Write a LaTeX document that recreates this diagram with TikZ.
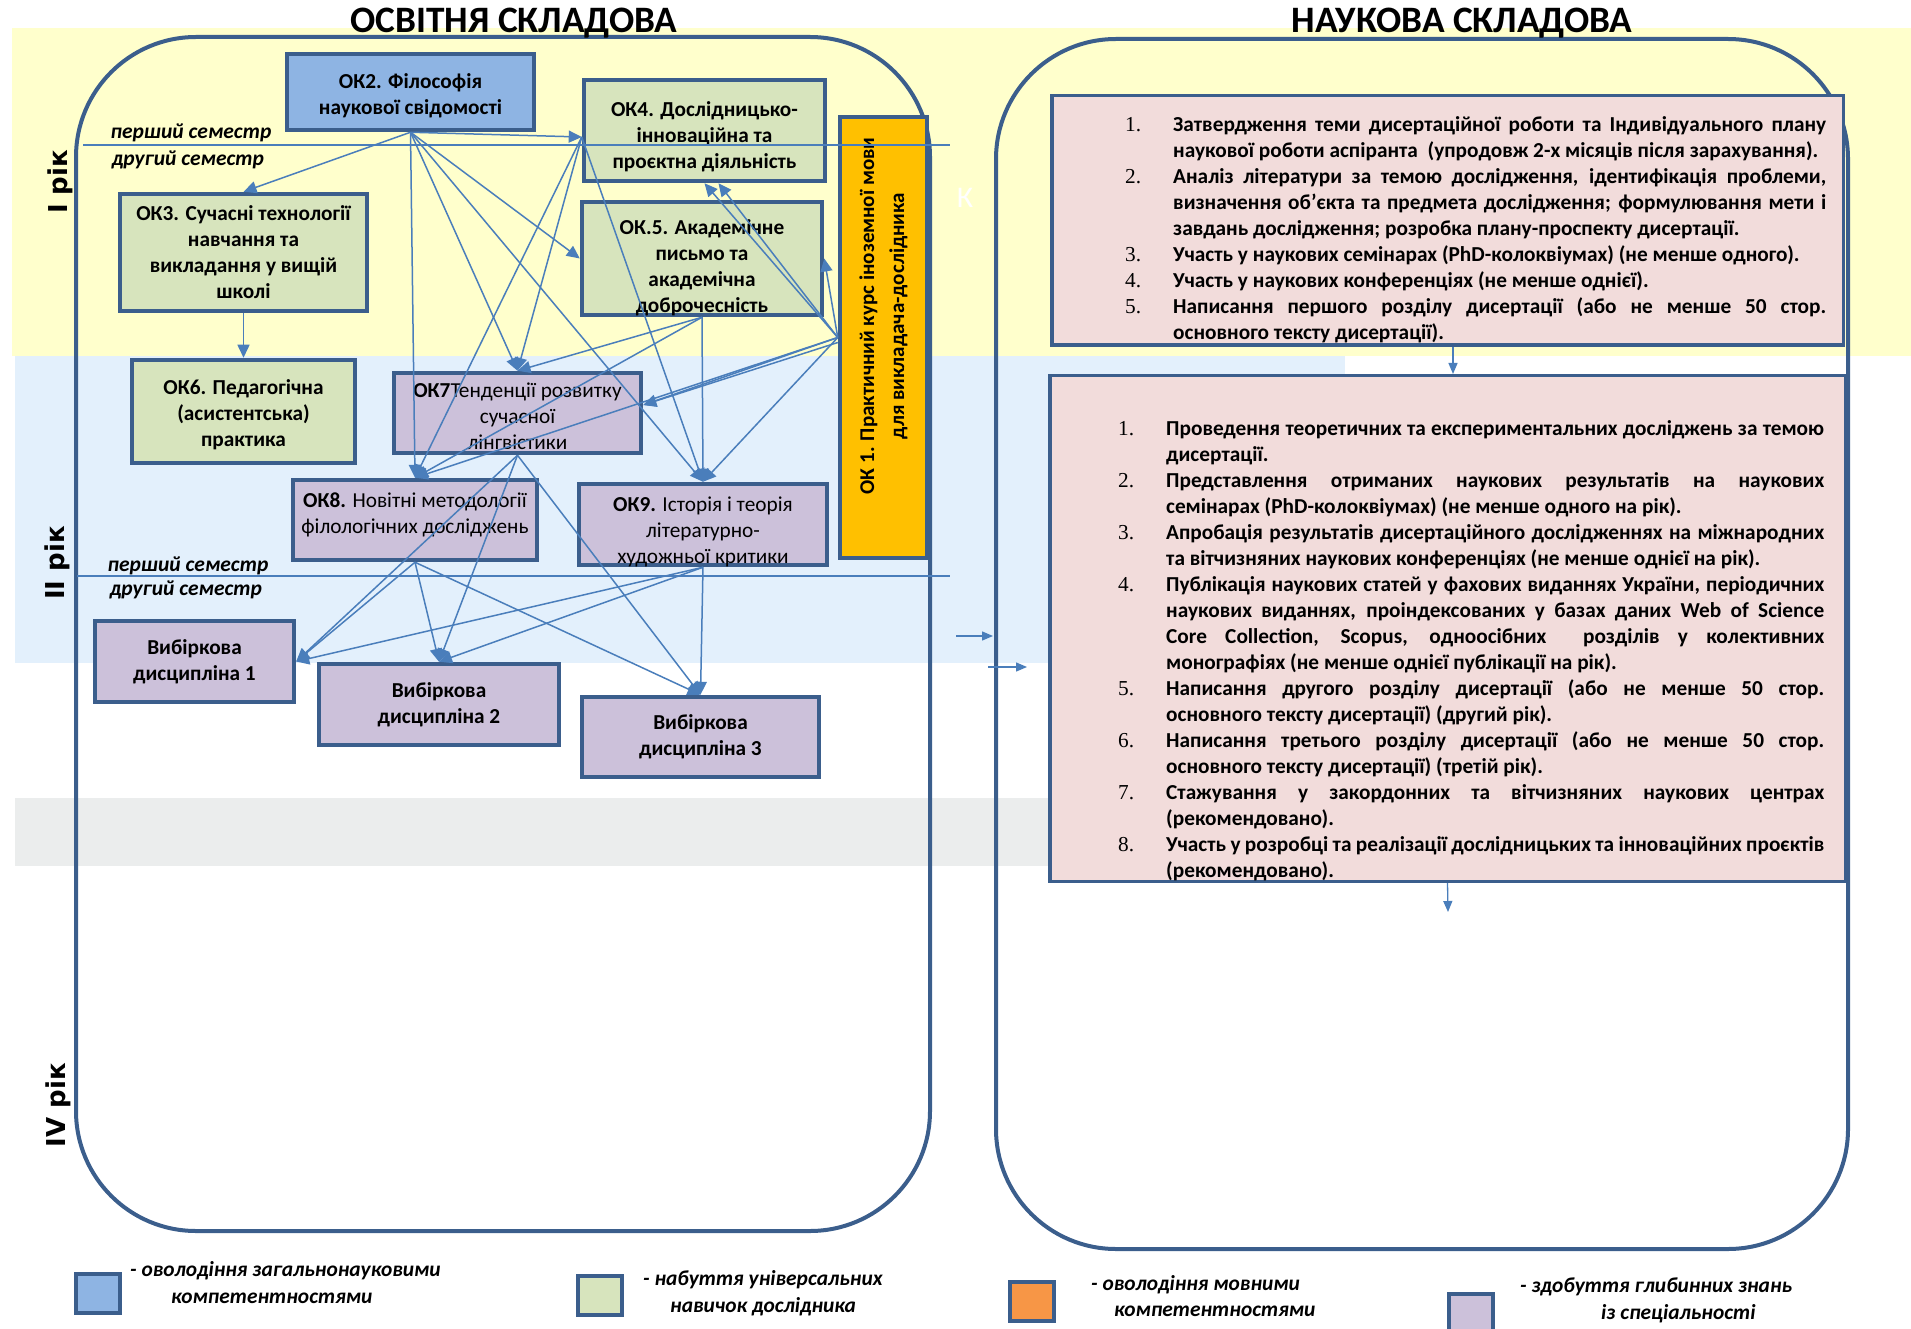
\documentclass[tikz,border=0pt]{standalone}
\usepackage{fontspec}
\setmainfont{Carlito}
\newfontfamily\yearfont{DejaVu Sans}
\newfontfamily\numfont{Liberation Serif}
\usepackage{xcolor}
\usetikzlibrary{arrows.meta}

\definecolor{boxline}{RGB}{59,94,140}
\definecolor{arrowblue}{RGB}{74,126,187}
\definecolor{okblue}{RGB}{142,180,227}
\definecolor{okgreen}{RGB}{215,228,189}
\definecolor{okpurple}{RGB}{204,193,218}
\definecolor{okorange}{RGB}{255,192,0}
\definecolor{legorange}{RGB}{247,150,70}
\definecolor{planpink}{RGB}{242,220,219}
\definecolor{bandyellow}{RGB}{255,255,204}
\definecolor{bandblue}{RGB}{227,240,252}
\definecolor{bandgray}{RGB}{235,237,237}

\tikzset{
  okfont/.style={font=\fontsize{21.3}{26}\selectfont},
  okboldfont/.style={font=\fontsize{21.3}{26}\selectfont\bfseries},
  okbox/.style={draw=boxline, line width=4.5pt, align=center, inner sep=1pt, okboldfont},
  okboxblue/.style={okbox, fill=okblue},
  okboxgreen/.style={okbox, fill=okgreen},
  okboxpurple/.style={okbox, fill=okpurple},
  okboxorange/.style={okbox, fill=okorange, font=\fontsize{21}{30}\selectfont\bfseries},
  planbox/.style={draw=boxline, line width=3.5pt, fill=planpink, inner sep=0pt},
  plantext/.style={font=\fontsize{21.3}{26}\selectfont\bfseries, align=justify, inner sep=0pt, anchor=north west},
  bigframe/.style={draw=boxline, line width=4pt, rounded corners=120pt},
  titlefont/.style={font=\fontsize{37.3}{42}\selectfont\bfseries, inner sep=0pt},
  yearlabel/.style={font=\yearfont\fontsize{26}{30}\selectfont\bfseries, rotate=90, inner sep=0pt},
  semtext/.style={font=\fontsize{21.5}{25}\selectfont\bfseries\itshape, inner sep=0pt},
  semline/.style={draw=arrowblue, line width=1.3pt},
  okarrow/.style={-{Triangle[length=13pt,width=12pt]}, draw=arrowblue, line width=1.5pt},
  planarrow/.style={-{Triangle[length=11pt,width=9pt]}, draw=arrowblue, line width=1.3pt},
  legsq/.style={draw=boxline, line width=4pt, minimum width=44pt, minimum height=39pt, inner sep=0pt},
  legtext/.style={font=\fontsize{21.4}{25}\selectfont\bfseries\itshape, inner sep=0pt, anchor=west},
}

% text block moved up or down inside its box
\newcommand{\droptext}[2]{\raisebox{#1}[\height][\depth]{\begin{tabular}{@{}c@{}}#2\end{tabular}}}
% numbered item with hanging indent
\newcommand{\planitem}[2]{\par\hangindent=48pt\hangafter=1\noindent\makebox[48pt][l]{\numfont\mdseries #1}#2\par}

\begin{document}
\begin{tikzpicture}[x=1pt, y=-1pt]
  \useasboundingbox (0,0) rectangle (1911,1329);

  % Year bands
  \fill[bandyellow] (12,28) rectangle (1911,356);
  \fill[bandblue] (15,356) rectangle (1345,663);
  \fill[bandgray] (15,798) rectangle (1050,866);

  % Frames and titles
  \draw[bigframe] (76,37) rectangle (930,1231);
  \draw[bigframe] (996,39) rectangle (1848,1249);
  \node[titlefont] (eduttl) at (514,23) {ОСВІТНЯ СКЛАДОВА};
  \node[titlefont] (scittl) at (1462,23) {НАУКОВА СКЛАДОВА};

  % Years
  \node[yearlabel] (year1) at (60,182) {I рік};
  \node[yearlabel] (year2) at (57,563) {II рік};
  \node[yearlabel] (year4) at (58,1105) {IV рік};

  % Educational components
  \node[okboxblue, minimum width=247pt, minimum height=76pt] (ok2) at (410.5,92) {\droptext{-4pt}{ОК2. Філософія\\наукової свідомості}};
  \node[okboxgreen, minimum width=241pt, minimum height=101pt] (ok4) at (704.5,130.5) {\droptext{-7pt}{ОК4. Дослідницько-\\інноваційна та\\проєктна діяльність}};
  \node[okboxgreen, minimum width=247pt, minimum height=117pt] (ok3) at (243.5,252.5) {ОК3. Сучасні технології\\навчання та\\викладання у вищій\\школі};
  \node[okboxgreen, minimum width=240pt, minimum height=113pt] (ok5) at (702,258.5) {\droptext{-10pt}{ОК.5. Академічне\\письмо та\\академічна\\доброчесність}};
  \node[okboxgreen, minimum width=223pt, minimum height=103pt] (ok6) at (243.5,411.5) {\droptext{-4pt}{ОК6. Педагогічна\\(асистентська)\\практика}};
  \node[okboxpurple, okfont, minimum width=247pt, minimum height=80pt] (ok7) at (517.5,413) {\droptext{-5pt}{\textbf{ОК7}Тенденції розвитку\\сучасної\\лінгвістики}};
  \node[okboxpurple, okfont, minimum width=244pt, minimum height=80pt] (ok8) at (415,520) {\droptext{5pt}{\textbf{ОК8.} Новітні методології\\філологічних досліджень}};
  \node[okboxpurple, okfont, minimum width=248pt, minimum height=81pt] (ok9) at (703,524.5) {\droptext{-8pt}{\textbf{ОК9.} Історія і теорія\\літературно-\\художньої критики}};
  \node[okboxorange, rotate=90, minimum width=441pt, minimum height=87pt] (ok1) at (883.5,337.5) {\hspace*{43pt}ОК 1. Практичний курс іноземної мови\\\hspace*{43pt}для викладача-дослідника};
  \node[okboxpurple, minimum width=199pt, minimum height=81pt] (vd1) at (194.5,661.5) {Вибіркова\\дисципліна 1};
  \node[okboxpurple, minimum width=240pt, minimum height=81pt] (vd2) at (439,704.5) {Вибіркова\\дисципліна 2};
  \node[okboxpurple, minimum width=237pt, minimum height=80pt] (vd3) at (700.5,737) {Вибіркова\\дисципліна 3};
  \node[font=\fontsize{30}{36}\selectfont, text=white, inner sep=0pt] (ghostk) at (965,198) {К};

  % Semesters
  \coordinate (sem1l) at (83,145);
  \coordinate (sem1r) at (950,145);
  \coordinate (sem2l) at (77,576);
  \coordinate (sem2r) at (950,576);
  \draw[semline] (sem1l) -- (sem1r);
  \draw[semline] (sem2l) -- (sem2r);
  \node[semtext] (sem1a) at (191,133) {перший семестр};
  \node[semtext] (sem1b) at (188,160) {другий семестр};
  \node[semtext] (sem2a) at (188,566) {перший семестр};
  \node[semtext] (sem2b) at (186,590) {другий семестр};

  % Arrows from OK2
  \coordinate (ok4in) at ([yshift=-6.5pt]ok4.west);
  \draw[okarrow] (ok2.south) -- (ok3.north);
  \draw[okarrow] (ok2.south) -- (ok4in);
  \draw[okarrow] (ok2.south) -- (ok5.west);
  \draw[okarrow] (ok2.south) -- (ok7.north);
  \draw[okarrow] (ok2.south) -- (ok8.north);
  \draw[okarrow] (ok2.south) -- (ok9.north);

  % Arrows from OK4, OK3, OK5
  \draw[okarrow] (ok4in) -- (ok7.north);
  \draw[okarrow] (ok4in) -- (ok8.north);
  \draw[okarrow] (ok4in) -- (ok9.north);
  \draw[okarrow] (ok3.south) -- (ok6.north);
  \draw[okarrow] (ok5.south) -- (ok7.north);
  \draw[okarrow] (ok5.south) -- (ok8.north);
  \draw[okarrow] (ok5.south) -- (ok9.north);

  % Arrows from OK1
  \draw[okarrow] (ok1.north) -- (ok4.south);
  \draw[okarrow] (ok1.north) -- ([xshift=14pt]ok4.south);
  \draw[okarrow] (ok1.north) -- (ok5.east);
  \draw[okarrow] (ok1.north) -- ([yshift=8pt]ok7.east);
  \draw[okarrow] ([yshift=-5pt]ok1.north) -- ([yshift=8pt]ok7.east);
  \draw[okarrow] (ok1.north) -- (ok8.north);
  \draw[okarrow] (ok1.north) -- (ok9.north);

  % Arrows to electives
  \draw[okarrow] (ok7.south) -- (vd1.east);
  \draw[okarrow] (ok7.south) -- (vd2.north);
  \draw[okarrow] (ok7.south) -- (vd3.north);
  \draw[okarrow] (ok8.south) -- (vd1.east);
  \draw[okarrow] (ok8.south) -- (vd2.north);
  \draw[okarrow] (ok8.south) -- (vd3.north);
  \draw[okarrow] (ok9.south) -- (vd1.east);
  \draw[okarrow] (ok9.south) -- (vd2.north);
  \draw[okarrow] (ok9.south) -- (vd3.north);

  % Scientific component
  \node[planbox, minimum width=791.5pt, minimum height=249.5pt] (plan1) at (1447.5,220.5) {};
  \node[planbox, minimum width=795.5pt, minimum height=505.5pt] (plan2) at (1447.5,628.5) {};
  \node[plantext, text width=701pt] (plan1txt) at (1125,105) {%
    \planitem{1.}{Затвердження теми дисертаційної роботи та Індивідуального плану\linebreak наукової роботи аспіранта~ (упродовж 2-х місяців після зарахування).}%
    \planitem{2.}{Аналіз літератури за темою дослідження, ідентифікація проблеми,\linebreak визначення об’єкта та предмета дослідження; формулювання мети і\linebreak завдань дослідження; розробка плану-проспекту дисертації.}%
    \planitem{3.}{Участь у наукових семінарах (PhD-колоквіумах) (не менше одного).}%
    \planitem{4.}{Участь у наукових конференціях (не менше однієї).}%
    \planitem{5.}{Написання першого розділу дисертації (або не менше 50 стор.\linebreak основного тексту дисертації).}};
  \node[plantext, text width=706pt] (plan2txt) at (1118,409) {%
    \planitem{1.}{Проведення теоретичних та експериментальних досліджень за темою\linebreak дисертації.}%
    \planitem{2.}{Представлення отриманих наукових результатів на наукових\linebreak семінарах (PhD-колоквіумах) (не менше одного на рік).}%
    \planitem{3.}{Апробація результатів дисертаційного дослідженнях на міжнародних\linebreak та вітчизняних наукових конференціях (не менше однієї на рік).}%
    \planitem{4.}{Публікація наукових статей у фахових виданнях України, періодичних\linebreak наукових виданнях, проіндексованих у базах даних Web of Science\linebreak Core Collection, Scopus, одноосібних~ розділів у колективних\linebreak монографіях (не менше однієї публікації на рік).}%
    \planitem{5.}{Написання другого розділу дисертації (або не менше 50 стор.\linebreak основного тексту дисертації) (другий рік).}%
    \planitem{6.}{Написання третього розділу дисертації (або не менше 50 стор.\linebreak основного тексту дисертації) (третій рік).}%
    \planitem{7.}{Стажування у закордонних та вітчизняних наукових центрах\linebreak (рекомендовано).}%
    \planitem{8.}{Участь у розробці та реалізації дослідницьких та інноваційних проєктів\linebreak (рекомендовано).}};
  \coordinate (plan1out) at ([xshift=5.5pt]plan1.south);
  \coordinate (plan2in) at ([xshift=5.5pt]plan2.north);
  \draw[planarrow] (plan1out) -- (plan2in);
  \coordinate (planend) at (1448,912);
  \draw[planarrow] (plan2.south) -- (planend);
  \coordinate (linkA) at (956,636);
  \coordinate (linkAend) at (993,636);
  \coordinate (linkB) at (988,667);
  \coordinate (linkBend) at (1027,667);
  \draw[planarrow] (linkA) -- (linkAend);
  \draw[planarrow] (linkB) -- (linkBend);

  % Legend
  \node[legsq, fill=okblue] (leg1) at (97.5,1293) {};
  \node[legtext] (leg1a) at (130,1271) {- оволодіння загальнонауковими};
  \node[legtext] (leg1b) at (171,1298) {компетентностями};
  \node[legsq, fill=okgreen] (leg2) at (600,1295) {};
  \node[legtext] (leg2a) at (643,1280) {- набуття універсальних};
  \node[legtext] (leg2b) at (670,1307) {навичок дослідника};
  \node[legsq, fill=legorange] (leg3) at (1031.5,1301) {};
  \node[legtext] (leg3a) at (1091,1285) {- оволодіння мовними};
  \node[legtext] (leg3b) at (1114,1311) {компетентностями};
  \node[legsq, fill=okpurple] (leg4) at (1470.5,1313) {};
  \node[legtext] (leg4a) at (1520,1287) {- здобуття глибинних знань};
  \node[legtext] (leg4b) at (1601,1314) {із спеціальності};
\end{tikzpicture}
\end{document}
